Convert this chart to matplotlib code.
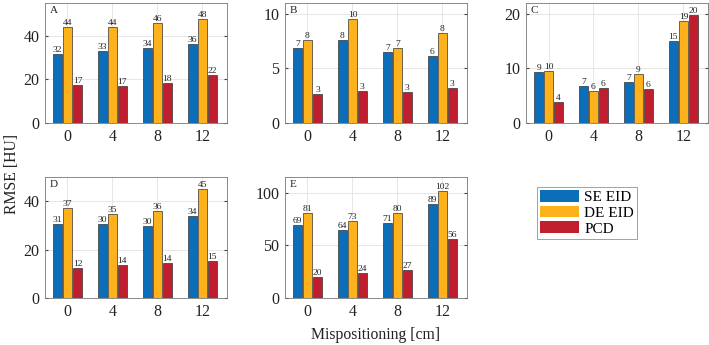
import numpy as np
import matplotlib
matplotlib.use('Agg')
import matplotlib.pyplot as plt
from matplotlib.patches import Patch

plt.rcParams['font.family'] = ['Liberation Serif', 'DejaVu Serif']

mispos = ['0', '4', '8', '12']
series = ['SE EID', 'DE EID', 'PCD']
colors = ['#0C6DB8', '#FDB21C', '#BE1E2D']

# RMSE [HU] per panel: SE EID, DE EID, PCD
a_se = [31.6, 33.0, 34.2, 36.1]
a_de = [43.8, 44.0, 45.8, 47.6]
a_pcd = [17.2, 17.1, 18.2, 22.2]

b_se = [6.9, 7.6, 6.55, 6.1]
b_de = [7.6, 9.52, 6.9, 8.2]
b_pcd = [2.7, 2.9, 2.8, 3.2]

c_se = [9.4, 6.8, 7.45, 15.0]
c_de = [9.6, 5.8, 8.9, 18.7]
c_pcd = [3.8, 6.4, 6.3, 19.8]

d_se = [30.6, 30.4, 29.9, 33.8]
d_de = [37.0, 34.8, 35.9, 45.0]
d_pcd = [12.4, 13.6, 14.3, 15.4]

e_se = [69.3, 64.4, 71.2, 89.3]
e_de = [80.9, 73.3, 80.4, 101.8]
e_pcd = [19.8, 24.2, 27.0, 55.7]

panels = [
    ('A', [a_se, a_de, a_pcd], 55, [0, 20, 40], [0.0635, 0.6435, 0.2567, 0.348]),
    ('B', [b_se, b_de, b_pcd], 11, [0, 5, 10], [0.402, 0.6435, 0.2567, 0.348]),
    ('C', [c_se, c_de, c_pcd], 22, [0, 10, 20], [0.742, 0.6435, 0.2567, 0.348]),
    ('D', [d_se, d_de, d_pcd], 50, [0, 20, 40], [0.0635, 0.136, 0.2567, 0.351]),
    ('E', [e_se, e_de, e_pcd], 115, [0, 50, 100], [0.402, 0.136, 0.2567, 0.351]),
]

fig = plt.figure(figsize=(7.09, 3.45), dpi=100)

x = np.arange(len(mispos))
w = 0.2
step = 0.222

for letter, data, ymax, yticks, pos in panels:
    ax = fig.add_axes(pos)
    for i, vals in enumerate(data):
        xs = x + (i - 1) * step
        ax.bar(xs, vals, width=w, color=colors[i], edgecolor='#333333',
               linewidth=0.5, zorder=3)
        for xi, v in zip(xs, vals):
            ax.text(xi, v, str(int(round(v))), ha='center', va='bottom',
                    fontsize=6.8, color='#222222', zorder=4)
    ax.set_xlim(-0.5, 3.55)
    ax.set_ylim(0, ymax)
    ax.set_xticks(x)
    ax.set_xticklabels(mispos)
    ax.set_yticks(yticks)
    ax.tick_params(direction='in', length=2, labelsize=11.5, colors='#444444',
                   labelcolor='#222222', top=False, right=True, pad=4)
    ax.grid(True, color='#e2e2e2', linewidth=0.6, zorder=0)
    for s in ax.spines.values():
        s.set_color('#777777')
        s.set_linewidth(0.6)
    ax.text(0.025, 0.975, letter, transform=ax.transAxes, ha='left', va='top',
            fontsize=8, color='#222222')

fig.text(0.017, 0.495, 'RMSE [HU]', rotation=90, ha='center', va='center',
         fontsize=11.3, color='#222222')
fig.text(0.529, 0.03, 'Mispositioning [cm]', ha='center', va='center',
         fontsize=11.3, color='#222222')

handles = [Patch(facecolor=c, edgecolor='none') for c in colors]
leg = fig.legend(handles, series, loc='upper left', bbox_to_anchor=(0.757, 0.458),
                 fontsize=11, frameon=True, fancybox=False, handlelength=2.6,
                 handleheight=0.8, handletextpad=0.3, labelspacing=0.1,
                 borderpad=0.2, borderaxespad=0)
leg.get_frame().set_edgecolor('#777777')
leg.get_frame().set_linewidth(0.6)

fig.savefig('out.png', dpi=100)
